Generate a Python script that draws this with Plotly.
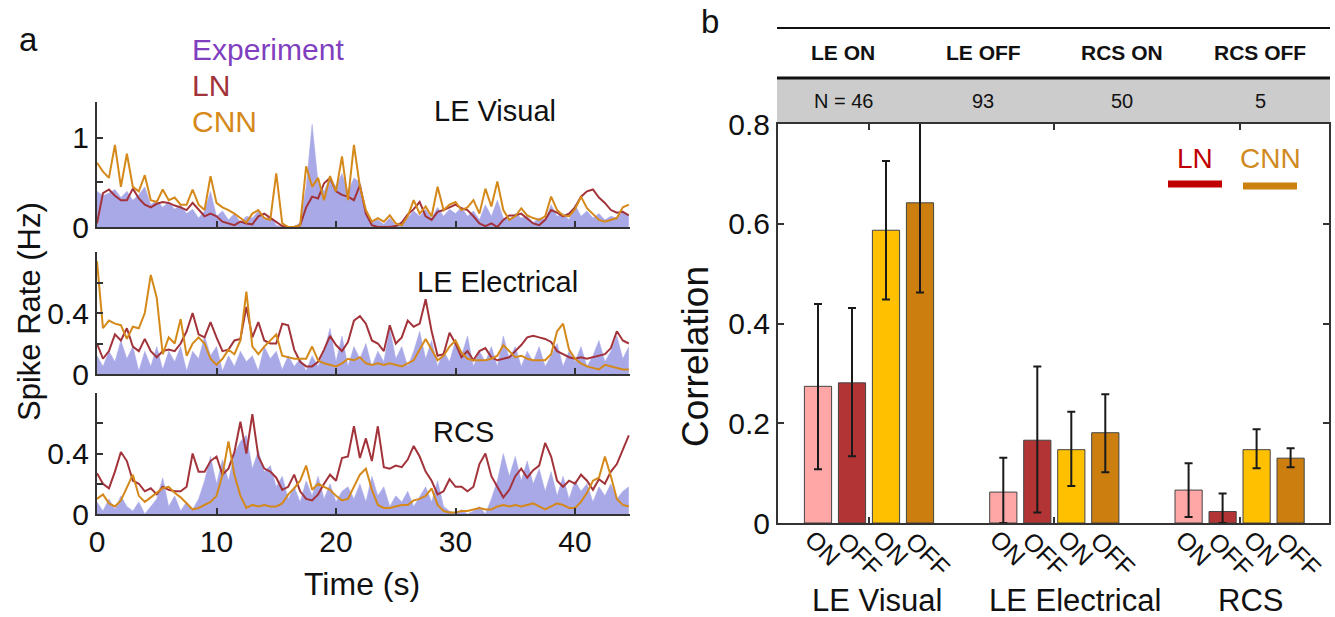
import plotly.graph_objects as go

# ---------------- data: panel a (spike rates, Hz) ----------------
time_s = [0.5 * i for i in range(90)]  # sample times 0 ... 44.5 s

vis_exp = [0.40, 0.35, 0.38, 0.42, 0.33, 0.40, 0.30, 0.36, 0.45, 0.25,
           0.30, 0.22, 0.28, 0.20, 0.25, 0.15, 0.20, 0.10, 0.18, 0.40,
           0.12, 0.18, 0.08, 0.15, 0.05, 0.12, 0.10, 0.18, 0.08, 0.12,
           0.02, 0.00, 0.00, 0.00, 0.05, 0.45, 1.15, 0.50, 0.40, 0.55,
           0.45, 0.60, 0.40, 0.55, 0.50, 0.15, 0.05, 0.08, 0.03, 0.10,
           0.02, 0.06, 0.10, 0.18, 0.12, 0.20, 0.10, 0.22, 0.12, 0.20,
           0.15, 0.22, 0.12, 0.18, 0.08, 0.25, 0.12, 0.30, 0.10, 0.08,
           0.15, 0.10, 0.12, 0.05, 0.10, 0.08, 0.25, 0.12, 0.15, 0.08,
           0.25, 0.12, 0.18, 0.10, 0.15, 0.08, 0.12, 0.10, 0.18, 0.12]
vis_ln = [0.04, 0.38, 0.42, 0.35, 0.30, 0.30, 0.43, 0.32, 0.25, 0.22,
          0.26, 0.28, 0.27, 0.24, 0.22, 0.19, 0.27, 0.19, 0.12, 0.15,
          0.12, 0.06, 0.04, 0.02, 0.06, 0.04, 0.03, 0.12, 0.15, 0.10,
          0.05, 0.01, 0.00, 0.00, 0.02, 0.22, 0.34, 0.32, 0.49, 0.55,
          0.40, 0.36, 0.34, 0.30, 0.47, 0.15, 0.02, 0.00, 0.00, 0.00,
          0.01, 0.05, 0.14, 0.20, 0.28, 0.12, 0.08, 0.17, 0.19, 0.22,
          0.25, 0.21, 0.19, 0.12, 0.04, 0.01, 0.04, 0.00, 0.08, 0.13,
          0.13, 0.15, 0.10, 0.04, 0.02, 0.08, 0.19, 0.16, 0.12, 0.15,
          0.22, 0.34, 0.40, 0.42, 0.33, 0.27, 0.19, 0.16, 0.17, 0.13]
vis_cnn = [0.72, 0.62, 0.55, 0.92, 0.45, 0.82, 0.45, 0.40, 0.58, 0.30,
           0.28, 0.42, 0.30, 0.33, 0.25, 0.25, 0.42, 0.25, 0.19, 0.57,
           0.27, 0.22, 0.19, 0.15, 0.10, 0.05, 0.15, 0.19, 0.10, 0.08,
           0.60, 0.04, 0.00, 0.00, 0.02, 0.68, 0.45, 0.55, 0.30, 0.57,
           0.40, 0.79, 0.30, 0.92, 0.45, 0.19, 0.06, 0.10, 0.06, 0.13,
           0.04, 0.02, 0.12, 0.30, 0.15, 0.23, 0.12, 0.45, 0.19, 0.25,
           0.28, 0.19, 0.22, 0.30, 0.15, 0.43, 0.23, 0.51, 0.19, 0.08,
           0.12, 0.21, 0.13, 0.10, 0.08, 0.12, 0.34, 0.19, 0.13, 0.12,
           0.20, 0.34, 0.21, 0.15, 0.08, 0.06, 0.08, 0.10, 0.22, 0.25]

ele_exp = [0.12, 0.05, 0.15, 0.08, 0.22, 0.10, 0.18, 0.02, 0.15, 0.05,
           0.18, 0.03, 0.15, 0.08, 0.18, 0.02, 0.15, 0.10, 0.25, 0.12,
           0.18, 0.02, 0.12, 0.05, 0.15, 0.08, 0.12, 0.02, 0.18, 0.10,
           0.15, 0.03, 0.12, 0.05, 0.10, 0.02, 0.12, 0.05, 0.15, 0.30,
           0.08, 0.25, 0.05, 0.18, 0.10, 0.20, 0.05, 0.15, 0.08, 0.30,
           0.10, 0.18, 0.05, 0.15, 0.28, 0.10, 0.22, 0.05, 0.15, 0.08,
           0.22, 0.12, 0.25, 0.05, 0.15, 0.08, 0.18, 0.05, 0.25, 0.10,
           0.18, 0.05, 0.15, 0.08, 0.18, 0.05, 0.12, 0.20, 0.05, 0.15,
           0.08, 0.18, 0.05, 0.12, 0.22, 0.08, 0.15, 0.25, 0.10, 0.18]
ele_ln = [0.20, 0.10, 0.15, 0.26, 0.22, 0.30, 0.18, 0.15, 0.23, 0.15,
          0.11, 0.15, 0.16, 0.15, 0.20, 0.28, 0.40, 0.26, 0.24, 0.34,
          0.24, 0.15, 0.16, 0.22, 0.23, 0.44, 0.24, 0.34, 0.22, 0.20,
          0.20, 0.33, 0.32, 0.16, 0.08, 0.05, 0.05, 0.08, 0.16, 0.25,
          0.19, 0.15, 0.21, 0.35, 0.38, 0.33, 0.22, 0.20, 0.15, 0.32,
          0.20, 0.24, 0.35, 0.31, 0.33, 0.49, 0.28, 0.12, 0.13, 0.27,
          0.20, 0.11, 0.15, 0.09, 0.15, 0.17, 0.11, 0.09, 0.10, 0.11,
          0.15, 0.19, 0.24, 0.25, 0.24, 0.23, 0.21, 0.15, 0.13, 0.11,
          0.10, 0.11, 0.10, 0.11, 0.12, 0.13, 0.17, 0.28, 0.22, 0.20]
ele_cnn = [0.74, 0.30, 0.35, 0.33, 0.32, 0.23, 0.31, 0.30, 0.40, 0.65,
           0.50, 0.13, 0.24, 0.20, 0.36, 0.12, 0.20, 0.24, 0.20, 0.10,
           0.06, 0.10, 0.16, 0.13, 0.22, 0.54, 0.18, 0.13, 0.18, 0.22,
           0.26, 0.12, 0.11, 0.10, 0.10, 0.10, 0.18, 0.09, 0.07, 0.06,
           0.05, 0.07, 0.10, 0.09, 0.11, 0.07, 0.06, 0.07, 0.06, 0.07,
           0.06, 0.05, 0.07, 0.09, 0.16, 0.23, 0.16, 0.09, 0.12, 0.18,
           0.22, 0.14, 0.10, 0.09, 0.09, 0.09, 0.10, 0.12, 0.19, 0.15,
           0.11, 0.12, 0.10, 0.09, 0.09, 0.09, 0.13, 0.28, 0.33, 0.16,
           0.10, 0.07, 0.05, 0.04, 0.03, 0.06, 0.05, 0.04, 0.03, 0.03]

rcs_exp = [0.08, 0.02, 0.10, 0.03, 0.12, 0.05, 0.02, 0.08, 0.00, 0.05,
           0.10, 0.24, 0.05, 0.12, 0.02, 0.08, 0.03, 0.10, 0.22, 0.38,
           0.20, 0.36, 0.22, 0.40, 0.48, 0.52, 0.30, 0.42, 0.28, 0.32,
           0.18, 0.25, 0.10, 0.18, 0.08, 0.22, 0.12, 0.25, 0.10, 0.20,
           0.08, 0.15, 0.18, 0.10, 0.20, 0.08, 0.25, 0.12, 0.18, 0.05,
           0.12, 0.08, 0.15, 0.05, 0.12, 0.18, 0.08, 0.22, 0.05, 0.02,
           0.00, 0.03, 0.00, 0.02, 0.05, 0.00, 0.10, 0.22, 0.40, 0.25,
           0.38, 0.22, 0.35, 0.20, 0.30, 0.15, 0.28, 0.12, 0.25, 0.10,
           0.22, 0.15, 0.20, 0.08, 0.18, 0.12, 0.20, 0.10, 0.15, 0.18]
rcs_ln = [0.27, 0.20, 0.17, 0.28, 0.41, 0.35, 0.22, 0.20, 0.15, 0.17,
          0.13, 0.18, 0.16, 0.15, 0.15, 0.18, 0.40, 0.28, 0.28, 0.35,
          0.38, 0.26, 0.30, 0.41, 0.61, 0.40, 0.66, 0.38, 0.30, 0.28,
          0.24, 0.16, 0.18, 0.26, 0.15, 0.10, 0.09, 0.13, 0.20, 0.26,
          0.22, 0.37, 0.38, 0.58, 0.37, 0.50, 0.35, 0.58, 0.31, 0.30,
          0.32, 0.31, 0.36, 0.45, 0.38, 0.28, 0.22, 0.13, 0.15, 0.23,
          0.18, 0.18, 0.15, 0.18, 0.33, 0.40, 0.25, 0.18, 0.11, 0.16,
          0.25, 0.30, 0.24, 0.29, 0.32, 0.47, 0.38, 0.22, 0.18, 0.22,
          0.20, 0.26, 0.22, 0.16, 0.23, 0.20, 0.28, 0.33, 0.43, 0.52]
rcs_cnn = [0.10, 0.13, 0.07, 0.05, 0.09, 0.18, 0.26, 0.12, 0.08, 0.11,
           0.14, 0.17, 0.18, 0.14, 0.11, 0.07, 0.03, 0.04, 0.06, 0.08,
           0.12, 0.26, 0.48, 0.26, 0.12, 0.04, 0.06, 0.05, 0.06, 0.05,
           0.05, 0.07, 0.13, 0.17, 0.22, 0.32, 0.16, 0.20, 0.18, 0.16,
           0.12, 0.09, 0.10, 0.18, 0.26, 0.30, 0.16, 0.06, 0.04, 0.04,
           0.05, 0.06, 0.06, 0.09, 0.10, 0.12, 0.17, 0.06, 0.02, 0.01,
           0.01, 0.02, 0.02, 0.03, 0.04, 0.03, 0.03, 0.05, 0.06, 0.05,
           0.06, 0.05, 0.06, 0.07, 0.05, 0.03, 0.05, 0.07, 0.06, 0.04,
           0.04, 0.08, 0.14, 0.22, 0.24, 0.38, 0.25, 0.10, 0.06, 0.05]

panel_titles = ["LE Visual", "LE Electrical", "RCS"]
time_ticks = [0, 10, 20, 30, 40]

# ---------------- data: panel b (correlation) ----------------
groups = ["LE Visual", "LE Electrical", "RCS"]
cond_labels = ["ON", "OFF", "ON", "OFF"]
ln_on = [0.274, 0.062, 0.066]
ln_on_lo = [0.108, 0.000, 0.012]
ln_on_hi = [0.439, 0.131, 0.120]
ln_off = [0.281, 0.166, 0.023]
ln_off_lo = [0.134, 0.021, 0.000]
ln_off_hi = [0.431, 0.314, 0.059]
cnn_on = [0.587, 0.147, 0.147]
cnn_on_lo = [0.448, 0.074, 0.110]
cnn_on_hi = [0.726, 0.223, 0.188]
cnn_off = [0.642, 0.181, 0.130]
cnn_off_lo = [0.462, 0.102, 0.112]
cnn_off_hi = [0.830, 0.258, 0.150]

table_headers = ["LE ON", "LE OFF", "RCS ON", "RCS OFF"]
table_counts = ["N = 46", "93", "50", "5"]
corr_ticks = [0, 0.2, 0.4, 0.6, 0.8]
corr_ticktext = ["0", "0.2", "0.4", "0.6", "0.8"]

# ---------------- styling / layout helpers ----------------
W, H = 1335, 617
def px(x):
    return min(max(x / W, 0.0), 1.0)
def py(y):
    return min(max(1 - y / H, 0.0), 1.0)

RIGHT_EDGE = 1329
BAR0_PX, BAR_STEP_PX = 818, 34

FONT = "Liberation Sans, Arial, sans-serif"
AX = "#333333"
TXT = "#111111"
EXP_C = "#A9A9E8"
LN_C = "#A3333A"
CNN_C = "#D4891A"

fig = go.Figure()

series = [(vis_exp, vis_ln, vis_cnn), (ele_exp, ele_ln, ele_cnn), (rcs_exp, rcs_ln, rcs_cnn)]
for k, (e, l, c) in enumerate(series):
    xa = "x" if k == 0 else f"x{k+1}"
    ya = "y" if k == 0 else f"y{k+1}"
    fig.add_trace(go.Scatter(x=time_s, y=e, xaxis=xa, yaxis=ya, mode="lines",
                             line=dict(color=EXP_C, width=0.5), fill="tozeroy",
                             fillcolor=EXP_C, showlegend=False, hoverinfo="skip"))
    fig.add_trace(go.Scatter(x=time_s, y=l, xaxis=xa, yaxis=ya, mode="lines",
                             line=dict(color=LN_C, width=2), showlegend=False))
    fig.add_trace(go.Scatter(x=time_s, y=c, xaxis=xa, yaxis=ya, mode="lines",
                             line=dict(color=CNN_C, width=2), showlegend=False))

# bars
GROUP_STEP = 5.45
bar_sets = [
    (ln_on, ln_on_lo, ln_on_hi, "#FFA6A6"),
    (ln_off, ln_off_lo, ln_off_hi, "#B33434"),
    (cnn_on, cnn_on_lo, cnn_on_hi, "#FFC000"),
    (cnn_off, cnn_off_lo, cnn_off_hi, "#CC7F0E"),
]
bar_positions = []
for k, (vals, lo, hi, col) in enumerate(bar_sets):
    xs = [g * GROUP_STEP + k for g in range(len(groups))]
    bar_positions.append(xs)
    fig.add_trace(go.Bar(
        x=xs, y=vals, width=0.8, xaxis="x4", yaxis="y4", showlegend=False,
        marker=dict(color=col, line=dict(color="#444444", width=1)),
        error_y=dict(type="data", symmetric=False,
                     array=[h - v for h, v in zip(hi, vals)],
                     arrayminus=[v - m for v, m in zip(vals, lo)],
                     color="#1a1a1a", thickness=2, width=4)))
group_centers = [g * GROUP_STEP + 1.5 for g in range(len(groups))]

tickfont = dict(family=FONT, size=30, color=TXT)
left_dom = [px(97), px(630)]
y_doms = [[py(227), py(102)], [py(374), py(252)], [py(514), py(393)]]
y_ranges = [[0, 1.4], [0, 0.8], [0, 0.8]]
y_tv = [[0, 0.5, 1], [0, 0.2, 0.4, 0.6], [0, 0.2, 0.4, 0.6]]
y_tt = [["0", "", "1"], ["0", "", "0.4", ""], ["0", "", "0.4", ""]]

layout = dict(
    width=W, height=H, margin=dict(l=0, r=0, t=0, b=0, autoexpand=False),
    paper_bgcolor="white", plot_bgcolor="rgba(0,0,0,0)",
    barmode="overlay", font=dict(family=FONT, color=TXT),
)
for k in range(3):
    xn = "xaxis" if k == 0 else f"xaxis{k+1}"
    yn = "yaxis" if k == 0 else f"yaxis{k+1}"
    layout[xn] = dict(domain=left_dom, anchor="y" if k == 0 else f"y{k+1}",
                      range=[0, 44.6], tickvals=time_ticks, showticklabels=(k == 2),
                      showline=True, linecolor=AX, linewidth=2, ticks="inside",
                      ticklen=6, tickwidth=2, tickcolor=AX, showgrid=False,
                      zeroline=False, tickfont=tickfont, automargin=False)
    layout[yn] = dict(domain=y_doms[k], anchor="x" if k == 0 else f"x{k+1}",
                      range=y_ranges[k], tickvals=y_tv[k], ticktext=y_tt[k],
                      showline=True, linecolor=AX, linewidth=2, ticks="inside",
                      ticklen=6, tickwidth=2, tickcolor=AX, showgrid=False,
                      zeroline=False, tickfont=tickfont, automargin=False)
x4_range = [(778 - BAR0_PX) / BAR_STEP_PX, (RIGHT_EDGE - BAR0_PX) / BAR_STEP_PX]
layout["xaxis4"] = dict(domain=[px(778), px(RIGHT_EDGE)], anchor="y4",
                        range=x4_range, tickvals=group_centers,
                        ticktext=["", "", ""], showline=True, mirror="ticks",
                        linecolor=AX, linewidth=2, ticks="inside", ticklen=6,
                        tickwidth=2, tickcolor=AX, showgrid=False, zeroline=False,
                        automargin=False)
layout["yaxis4"] = dict(domain=[py(523), py(124)], anchor="x4", range=[0, 0.8],
                        tickvals=corr_ticks, ticktext=corr_ticktext,
                        showline=True, mirror="ticks", linecolor=AX, linewidth=2,
                        ticks="inside", ticklen=6, tickwidth=2, tickcolor=AX,
                        showgrid=False, zeroline=False, tickfont=tickfont,
                        automargin=False)

ann = []
def text(x, y, s, size, color=TXT, angle=0, xanchor="center", bold=False, **kw):
    d = dict(x=x, y=y, xref="paper", yref="paper", text=(f"<b>{s}</b>" if bold else s),
             showarrow=False, xanchor=xanchor, yanchor="middle", textangle=angle,
             font=dict(family=FONT, size=size, color=color))
    d.update(kw)
    ann.append(d)

# panel a texts
text(px(28), py(40), "a", 33)
text(px(190), py(49), "Experiment", 30, color="#7F3FBF", xanchor="left")
text(px(190), py(85), "LN", 30, color=LN_C, xanchor="left")
text(px(190), py(121), "CNN", 30, color=CNN_C, xanchor="left")
text(px(495), py(111), panel_titles[0], 29)
text(px(497), py(282), panel_titles[1], 29)
text(px(463), py(432), panel_titles[2], 29)
text(px(30), py(312), "Spike Rate (Hz)", 31, angle=-90)
text(px(362), py(584), "Time (s)", 32)

# panel b texts
text(px(710), py(22), "b", 33)
text(px(695), py(357), "Correlation", 37, angle=-90)
col_x = [843, 983, 1122, 1260]
for cx, h, n in zip(col_x, table_headers, table_counts):
    text(px(cx), py(53), h, 21, bold=True)
    text(px(cx), py(101), n, 20)
text(px(1195), py(158), "LN", 28, color="#C00000")
text(px(1270), py(158), "CNN", 28, color="#D08A1F")
for k, xs in enumerate(bar_positions):
    for xv in xs:
        is_off = cond_labels[k] == "OFF"
        ann.append(dict(x=xv, y=py(554 if is_off else 548), xref="x4", yref="paper",
                        text=cond_labels[k], showarrow=False, textangle=45,
                        xanchor="center", yanchor="middle", xshift=(8 if is_off else 5),
                        font=dict(family=FONT, size=25, color=TXT)))
for gx, g in zip([877, 1075, 1250], groups):
    text(px(gx), py(600), g, 31)
layout["annotations"] = ann

shapes = [
    dict(type="rect", xref="paper", yref="paper", x0=px(777), x1=px(RIGHT_EDGE + 1),
         y0=py(124), y1=py(78), fillcolor="#CCCCCC", line=dict(width=0), layer="below"),
    dict(type="line", xref="paper", yref="paper", x0=px(777), x1=px(RIGHT_EDGE + 1),
         y0=py(28), y1=py(28), line=dict(color="#111111", width=2)),
    dict(type="line", xref="paper", yref="paper", x0=px(777), x1=px(RIGHT_EDGE + 1),
         y0=py(78), y1=py(78), line=dict(color="#111111", width=3)),
    dict(type="line", xref="paper", yref="paper", x0=px(1168), x1=px(1222),
         y0=py(184), y1=py(184), line=dict(color="#C00000", width=7)),
    dict(type="line", xref="paper", yref="paper", x0=px(1243), x1=px(1297),
         y0=py(186), y1=py(186), line=dict(color="#CC8010", width=7)),
]
layout["shapes"] = shapes

fig.update_layout(**layout)
fig.write_html("out.html", config={"displayModeBar": False},
               post_script="document.body.style.margin='0';")
